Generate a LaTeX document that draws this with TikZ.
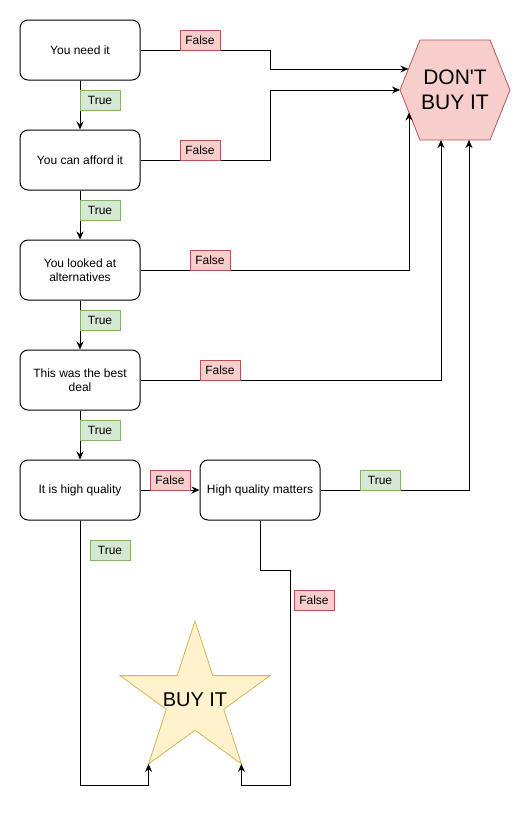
\documentclass[tikz,border=0pt]{standalone}
\usepackage{fontspec}
\setmainfont{Liberation Sans}[Ligatures=TeXOff]
\usetikzlibrary{arrows.meta}
\definecolor{redfill}{HTML}{F8CECC}
\definecolor{redline}{HTML}{B85450}
\definecolor{greenfill}{HTML}{D5E8D4}
\definecolor{greenline}{HTML}{82B366}
\definecolor{yellowfill}{HTML}{FFF2CC}
\definecolor{yellowline}{HTML}{D6B656}
\begin{document}
\begin{tikzpicture}[x=1pt,y=-1pt,
  box/.style={draw, rounded corners=8pt, minimum width=120pt, minimum height=60pt, inner sep=0pt, align=center, font=\fontsize{12}{14}\selectfont, line width=1pt},
  lab/.style={draw, minimum width=40pt, minimum height=20pt, inner sep=0pt, font=\fontsize{12}{14}\selectfont, line width=0.8pt},
  tlab/.style={lab, fill=greenfill, draw=greenline},
  flab/.style={lab, fill=redfill, draw=redline},
  conn/.style={line width=1pt, -{Stealth[length=8pt,width=7pt]}},
]
\useasboundingbox (0,0) rectangle (531,814);

% decision boxes
\node[box] (n1) at (80,50)  {You need it};
\node[box] (n2) at (80,160) {You can afford it};
\node[box] (n3) at (80,270) {You looked at\\alternatives};
\node[box] (n4) at (80,380) {This was the best\\deal};
\node[box] (n5) at (80,490) {It is high quality};
\node[box] (n6) at (260,490) {High quality matters};

% hexagon DON'T BUY IT
\coordinate (h1) at (420,40);
\coordinate (h2) at (490,40);
\coordinate (h3) at (510,90);
\coordinate (h4) at (490,140);
\coordinate (h5) at (420,140);
\coordinate (h6) at (400,90);
\draw[redline, fill=redfill, line width=0.8pt] (h1)--(h2)--(h3)--(h4)--(h5)--(h6)--cycle;
\node[font=\fontsize{21}{25}\selectfont, align=center, inner sep=0pt] (dont) at (455,90) {DON'T\\BUY IT};
\coordinate (dA) at (408.4,69);
\coordinate (dC) at (409,112.5);
\coordinate (dD) at (441,140);
\coordinate (dE) at (469,140);

% star BUY IT
\coordinate (s1) at (195,621);
\coordinate (s2) at (212.8,675.6);
\coordinate (s3) at (270.1,675.6);
\coordinate (s4) at (223.7,709.3);
\coordinate (sLR) at (241.4,763.9);
\coordinate (s6) at (195,730.2);
\coordinate (sLL) at (148.6,763.9);
\coordinate (s8) at (166.3,709.3);
\coordinate (s9) at (119.9,675.6);
\coordinate (s10) at (177.2,675.6);
\draw[yellowline, fill=yellowfill, line width=0.8pt] (s1)--(s2)--(s3)--(s4)--(sLR)--(s6)--(sLL)--(s8)--(s9)--(s10)--cycle;
\node[font=\fontsize{20}{24}\selectfont, inner sep=0pt] (buy) at (195,700) {BUY IT};

% bend points
\coordinate (b1) at (80,785);
\coordinate (b2) at (290,570);
\coordinate (b3) at (290,785);

% connectors
\draw[conn] (n1.south) -- (n2.north);
\draw[conn] (n2.south) -- (n3.north);
\draw[conn] (n3.south) -- (n4.north);
\draw[conn] (n4.south) -- (n5.north);
\draw[conn] (n5.east) -- (n6.west);
\draw[conn] (n1.east) -- ++(130,0) |- (dA);
\draw[conn] (n2.east) -- ++(130,0) |- (h6);
\draw[conn] (n3.east) -| (dC);
\draw[conn] (n4.east) -| (dD);
\draw[conn] (n6.east) -| (dE);
\draw[conn] (n5.south) -- (b1) -| (sLL);
\draw[conn] (n6.south) |- (b2) -- (b3) -| (sLR);

% labels
\node[flab] (f1) at (200,40)  {False};
\node[flab] (f2) at (200,150) {False};
\node[flab] (f3) at (210,260) {False};
\node[flab] (f4) at (220,370) {False};
\node[flab] (f5) at (170,480) {False};
\node[flab] (f6) at (314,600) {False};
\node[tlab] (t1) at (100,100) {True};
\node[tlab] (t2) at (100,210) {True};
\node[tlab] (t3) at (100,320) {True};
\node[tlab] (t4) at (100,430) {True};
\node[tlab] (t5) at (110,550) {True};
\node[tlab] (t6) at (380,480) {True};
\end{tikzpicture}
\end{document}
